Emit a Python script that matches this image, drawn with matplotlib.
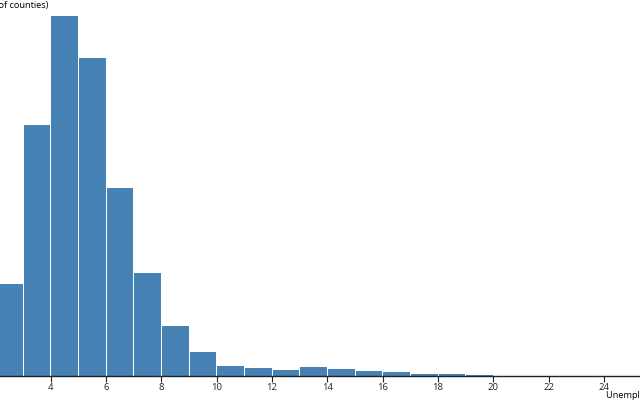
import matplotlib
matplotlib.use("Agg")
import matplotlib.pyplot as plt
import numpy as np

# histogram bins (unemployment rate, %) and county counts per bin
bin_left = [2, 3, 4, 5, 6, 7, 8, 9, 10, 11, 12, 13, 14, 15, 16, 17, 18, 19, 20, 21]
counts = [193, 527, 757, 668, 395, 216, 106, 50, 22, 17, 13, 19, 14, 11, 8, 5, 5, 2, 1, 0]
xticks = [4, 6, 8, 10, 12, 14, 16, 18, 20, 22, 24]

plt.rcParams['font.family'] = ['Open Sans', 'DejaVu Sans']

W, H = 640, 400
fig = plt.figure(figsize=(W / 100, H / 100), dpi=100)
ax = fig.add_axes([0, 24 / H, 1, 1 - 24 / H])

px = 1 / 27.67  # one pixel in data units along x
ax.bar(np.array(bin_left) + px / 2, counts, width=1 - px, align='edge',
       color='#4682b4', linewidth=0)

ax.set_xlim(2.168, 2.168 + W * px)
ax.set_ylim(0, 376 * 2.1)

for s in ['top', 'right', 'left']:
    ax.spines[s].set_visible(False)
ax.spines['bottom'].set_color('#222222')
ax.spines['bottom'].set_linewidth(1)
ax.set_yticks([])
ax.set_xticks(xticks)
ax.set_xticklabels([str(t) for t in xticks])
ax.tick_params(axis='x', length=4.3, width=0.8, pad=1, labelsize=6.8,
               colors='#222222')

fig.text(606 / W, 1 - 395 / H, 'Unemployment rate (%) \u2192', ha='left',
         va='center', fontsize=6.6)
fig.text(48 / W, 1 - 5 / H, '\u2191 Frequency (no. of counties)', ha='right',
         va='center', fontsize=6.6)

fig.savefig('out.png', dpi=100)
